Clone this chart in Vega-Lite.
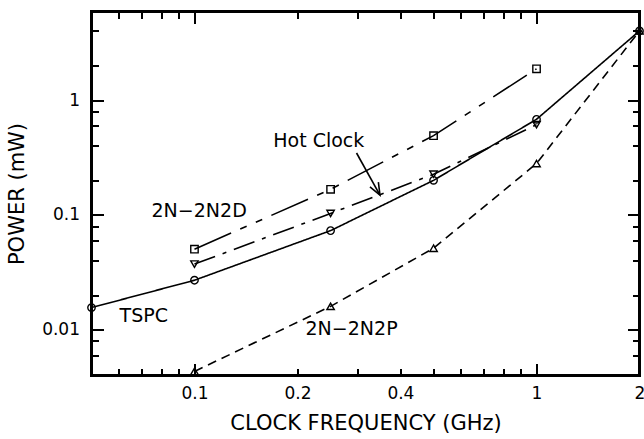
{
  "$schema": "https://vega.github.io/schema/vega-lite/v6.json",
  "width": 548,
  "height": 364,
  "autosize": "none",
  "padding": {"left": 91.5, "top": 11.5, "right": 4.5, "bottom": 63.5},
  "background": "white",
  "config": {
    "view": {"stroke": "black", "strokeWidth": 3},
    "axis": {"grid": false, "domain": false, "labelColor": "black", "titleColor": "black", "tickColor": "black", "labelFont": "DejaVu Sans", "titleFont": "DejaVu Sans", "titleFontWeight": "normal", "labelFlush": false, "labelOverlap": false, "labelBound": false}
  },
  "datasets": {
    "series": [
      {"s": "TSPC", "f": 0.05, "p": 0.0156},
      {"s": "TSPC", "f": 0.1, "p": 0.027},
      {"s": "TSPC", "f": 0.25, "p": 0.073},
      {"s": "TSPC", "f": 0.5, "p": 0.2},
      {"s": "TSPC", "f": 1, "p": 0.68},
      {"s": "TSPC", "f": 2, "p": 4},
      {"s": "2N2P", "f": 0.1, "p": 0.00434},
      {"s": "2N2P", "f": 0.25, "p": 0.016},
      {"s": "2N2P", "f": 0.5, "p": 0.0513},
      {"s": "2N2P", "f": 1, "p": 0.28},
      {"s": "2N2P", "f": 2, "p": 4},
      {"s": "2N2D", "f": 0.1, "p": 0.0503},
      {"s": "2N2D", "f": 0.25, "p": 0.167},
      {"s": "2N2D", "f": 0.5, "p": 0.49},
      {"s": "2N2D", "f": 1, "p": 1.87},
      {"s": "HotClock", "f": 0.1, "p": 0.0373},
      {"s": "HotClock", "f": 0.25, "p": 0.103},
      {"s": "HotClock", "f": 0.5, "p": 0.226},
      {"s": "HotClock", "f": 1, "p": 0.61}
    ],
    "labels": [
      {"t": "Hot Clock", "f": 0.17, "p": 0.39},
      {"t": "2N−2N2D", "f": 0.0749, "p": 0.0961},
      {"t": "TSPC", "f": 0.0604, "p": 0.01174},
      {"t": "2N−2N2P", "f": 0.2112, "p": 0.00905}
    ],
    "arrow": [
      {"f": 0.2977, "p": 0.346, "f2": 0.3486, "p2": 0.149}
    ]
  },
  "resolve": {"axis": {"x": "independent", "y": "independent"}},
  "layer": [
    {
      "data": {"name": "series"},
      "mark": {"type": "line", "strokeWidth": 1.6, "color": "black"},
      "encoding": {
        "x": {"field": "f", "type": "quantitative", "scale": {"type": "log", "domain": [0.05, 2], "nice": false},
          "axis": {"orient": "bottom", "values": [0.1, 0.2, 0.4, 1, 2], "format": "~g", "ticks": false, "labelPadding": 10, "labelFontSize": 17,
            "title": "CLOCK FREQUENCY (GHz)", "titleFontSize": 21, "titleX": 274, "titleY": 53.5, "titleBaseline": "alphabetic"}},
        "y": {"field": "p", "type": "quantitative", "scale": {"type": "log", "domain": [0.004, 5.9], "nice": false},
          "axis": {"orient": "left", "values": [0.01, 0.1, 1], "format": "~g", "ticks": false, "labelPadding": 12, "labelFontSize": 17,
            "title": "POWER (mW)", "titleFontSize": 21, "titleX": -68.5, "titleY": 182, "titleBaseline": "alphabetic"}},
        "strokeDash": {"field": "s", "type": "nominal", "legend": null,
          "scale": {"domain": ["TSPC", "2N2P", "2N2D", "HotClock"], "range": [[1, 0], [9, 6], [40, 10, 7, 10, 7, 10], [22, 8, 4, 8]]}}
      }
    },
    {
      "data": {"name": "series"},
      "mark": {"type": "point", "filled": false, "color": "black", "strokeWidth": 1.4, "size": 55, "opacity": 1},
      "encoding": {
        "x": {"field": "f", "type": "quantitative",
          "axis": {"orient": "bottom", "offset": -12, "values": [0.1, 1], "labels": false, "title": null, "ticks": true, "tickSize": 12, "tickWidth": 2}},
        "y": {"field": "p", "type": "quantitative",
          "axis": {"orient": "left", "offset": -12, "values": [0.01, 0.1, 1], "labels": false, "title": null, "ticks": true, "tickSize": 12, "tickWidth": 2}},
        "shape": {"field": "s", "type": "nominal", "legend": null,
          "scale": {"domain": ["TSPC", "2N2P", "2N2D", "HotClock"], "range": ["circle", "triangle-up", "square", "triangle-down"]}}
      }
    },
    {
      "data": {"name": "labels"},
      "mark": {"type": "text", "align": "left", "baseline": "alphabetic", "fontSize": 19, "font": "DejaVu Sans", "color": "black"},
      "encoding": {
        "x": {"field": "f", "type": "quantitative",
          "axis": {"orient": "bottom", "offset": -7, "values": [0.06, 0.07, 0.08, 0.09, 0.2, 0.3, 0.4, 0.5, 0.6, 0.7, 0.8, 0.9], "labels": false, "title": null, "ticks": true, "tickSize": 7, "tickWidth": 2}},
        "y": {"field": "p", "type": "quantitative",
          "axis": {"orient": "left", "offset": -7, "values": [0.006, 0.008, 0.02, 0.04, 0.06, 0.08, 0.2, 0.4, 0.6, 0.8, 2, 4], "labels": false, "title": null, "ticks": true, "tickSize": 7, "tickWidth": 2}},
        "text": {"field": "t", "type": "nominal"}
      }
    },
    {
      "data": {"name": "arrow"},
      "mark": {"type": "rule", "strokeWidth": 1.6, "color": "black"},
      "encoding": {
        "x": {"field": "f", "type": "quantitative",
          "axis": {"orient": "top", "offset": -12, "values": [0.1, 1], "labels": false, "title": null, "ticks": true, "tickSize": 12, "tickWidth": 2}},
        "y": {"field": "p", "type": "quantitative",
          "axis": {"orient": "right", "offset": -12, "values": [0.01, 0.1, 1], "labels": false, "title": null, "ticks": true, "tickSize": 12, "tickWidth": 2}},
        "x2": {"field": "f2"},
        "y2": {"field": "p2"}
      }
    },
    {
      "data": {"name": "arrow"},
      "mark": {"type": "point", "shape": "M-0.4,-1L0,0L0.4,-1", "filled": false, "color": "black", "strokeWidth": 1.6, "size": 576, "angle": -29, "opacity": 1},
      "encoding": {
        "x": {"field": "f2", "type": "quantitative",
          "axis": {"orient": "top", "offset": -7, "values": [0.06, 0.07, 0.08, 0.09, 0.2, 0.3, 0.4, 0.5, 0.6, 0.7, 0.8, 0.9], "labels": false, "title": null, "ticks": true, "tickSize": 7, "tickWidth": 2}},
        "y": {"field": "p2", "type": "quantitative",
          "axis": {"orient": "right", "offset": -7, "values": [0.006, 0.008, 0.02, 0.04, 0.06, 0.08, 0.2, 0.4, 0.6, 0.8, 2, 4], "labels": false, "title": null, "ticks": true, "tickSize": 7, "tickWidth": 2}}
      }
    }
  ]
}
